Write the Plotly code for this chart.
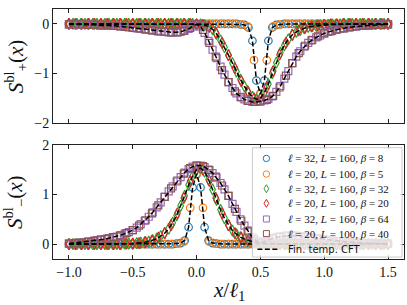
import numpy as np
import plotly.graph_objects as go

# ---------------- data ----------------
x32 = np.linspace(-1.0, 1.5, 81)   # ell = 32 sites, x / ell_1
x20 = np.linspace(-1.0, 1.5, 51)   # ell = 20 sites

# S_-^bl (bottom panel)
sm_nar_32 = [0,0,0,0,0,0,0,0,0,0,
             0,0,0,0,0,0,0,0,0,0,
             0,0,0,0,0,0,0,0.01,0.02,0.07,
             0.34,1.14,1.41,1.14,0.34,0.07,0.02,0.01,0,0,
             0,0,0,0,0,0,0,0,0,0,
             0,0,0,0,0,0,0,0,0,0,
             0,0,0,0,0,0,0,0,0,0,
             0,0,0,0,0,0,0,0,0,0,
             0]
sm_nar_20 = [0,0,0,0,0,0,0,0,0,0,
             0,0,0,0,0,0,0,0.01,0.05,0.73,
             1.40,0.73,0.05,0.01,0,0,0,0,0,0,
             0,0,0,0,0,0,0,0,0,0,
             0,0,0,0,0,0,0,0,0,0,
             0]
sm_med_32 = [0,0,0,0,0,0,0,0,0,0,
             0,0,0,0,0.01,0.01,0.01,0.02,0.03,0.04,
             0.05,0.08,0.11,0.16,0.22,0.31,0.43,0.58,0.77,0.97,
             1.19,1.37,1.50,1.53,1.46,1.30,1.10,0.89,0.69,0.52,
             0.38,0.27,0.20,0.14,0.10,0.07,0.05,0.03,0.02,0.01,
             0.01,0.01,0,0,0,0,0,0,0,0,
             0,0,0,0,0,0,0,0,0,0,
             0,0,0,0,0,0,0,0,0,0,
             0]
sm_med_20 = [0,0,0,0,0,0,0,0,0,0.01,
             0.01,0.02,0.04,0.07,0.13,0.22,0.38,0.62,0.93,1.27,
             1.50,1.50,1.27,0.93,0.62,0.38,0.22,0.13,0.07,0.04,
             0.02,0.01,0.01,0,0,0,0,0,0,0,
             0,0,0,0,0,0,0,0,0,0,
             0]
sm_wid_32 = [0.01,0.02,0.02,0.03,0.04,0.05,0.06,0.08,0.09,0.10,
             0.12,0.14,0.15,0.18,0.21,0.24,0.28,0.33,0.40,0.47,
             0.55,0.64,0.74,0.84,0.95,1.06,1.16,1.26,1.35,1.44,
             1.51,1.56,1.58,1.58,1.55,1.50,1.43,1.34,1.23,1.10,
             0.97,0.81,0.65,0.50,0.37,0.25,0.14,0.06,0.02,0.05,
             0.08,0.11,0.14,0.15,0.16,0.17,0.17,0.17,0.16,0.15,
             0.14,0.13,0.12,0.10,0.09,0.08,0.07,0.06,0.06,0.05,
             0.04,0.04,0.03,0.03,0.02,0.02,0.02,0.01,0.01,0.01,
             0.01]
sm_wid_20 = [0.01,0.02,0.03,0.05,0.07,0.09,0.11,0.14,0.17,0.22,
             0.28,0.37,0.48,0.62,0.78,0.95,1.12,1.28,1.42,1.53,
             1.58,1.57,1.49,1.36,1.18,0.97,0.71,0.47,0.27,0.10,
             0.02,0.07,0.12,0.15,0.17,0.17,0.16,0.15,0.13,0.11,
             0.09,0.07,0.06,0.05,0.04,0.03,0.02,0.02,0.01,0.01,
             0.01]

# S_+^bl (top panel)
sp_nar_32 = [0,0,0,0,0,0,0,0,0,0,
             0,0,0,0,0,0,0,0,0,0,
             0,0,0,0,0,0,0,0,0,0,
             0,0,0,0,0,0,0,0,0,0,
             0,0,0,-0.01,-0.02,-0.07,-0.34,-1.14,-1.41,-1.14,
             -0.34,-0.07,-0.02,-0.01,0,0,0,0,0,0,
             0,0,0,0,0,0,0,0,0,0,
             0,0,0,0,0,0,0,0,0,0,
             0]
sp_nar_20 = [0,0,0,0,0,0,0,0,0,0,
             0,0,0,0,0,0,0,0,0,0,
             0,0,0,0,0,0,0,-0.01,-0.05,-0.73,
             -1.40,-0.73,-0.05,-0.01,0,0,0,0,0,0,
             0,0,0,0,0,0,0,0,0,0,
             0]
sp_med_32 = [0,0,0,0,0,0,0,0,0,0,
             0,0,0,0,0,0,0,0,0,0,
             0,0,0,0,0,0,0,0,0,0,
             0,0,-0.01,-0.01,-0.03,-0.05,-0.11,-0.20,-0.33,-0.47,
             -0.63,-0.79,-0.96,-1.12,-1.26,-1.38,-1.47,-1.52,-1.50,-1.38,
             -1.21,-0.99,-0.78,-0.58,-0.43,-0.31,-0.22,-0.16,-0.12,-0.09,
             -0.06,-0.05,-0.04,-0.03,-0.02,-0.02,-0.01,-0.01,-0.01,0,
             0,0,0,0,0,0,0,0,0,0,
             0]
sp_med_20 = [0,0,0,0,0,0,0,0,0,0,
             0,0,0,0,0,0,0,0,0,0,
             -0.01,-0.02,-0.06,-0.18,-0.38,-0.63,-0.89,-1.15,-1.36,-1.50,
             -1.50,-1.28,-0.95,-0.62,-0.38,-0.22,-0.13,-0.08,-0.05,-0.03,
             -0.02,-0.01,-0.01,0,0,0,0,0,0,0,
             0]
sp_wid_32 = [-0.01,-0.01,-0.01,-0.01,-0.02,-0.02,-0.02,-0.02,-0.03,-0.03,
             -0.03,-0.04,-0.04,-0.05,-0.06,-0.07,-0.08,-0.09,-0.10,-0.11,
             -0.12,-0.13,-0.14,-0.15,-0.16,-0.17,-0.17,-0.17,-0.16,-0.13,
             -0.10,-0.05,-0.01,-0.05,-0.18,-0.34,-0.52,-0.69,-0.86,-1.02,
             -1.17,-1.29,-1.40,-1.47,-1.52,-1.55,-1.57,-1.57,-1.56,-1.54,
             -1.51,-1.46,-1.37,-1.25,-1.10,-0.95,-0.79,-0.66,-0.55,-0.46,
             -0.38,-0.32,-0.27,-0.23,-0.19,-0.16,-0.14,-0.12,-0.10,-0.09,
             -0.07,-0.06,-0.05,-0.04,-0.04,-0.03,-0.03,-0.02,-0.02,-0.01,
             -0.01]
sp_wid_20 = [-0.01,-0.01,-0.01,-0.02,-0.02,-0.03,-0.03,-0.04,-0.05,-0.06,
             -0.08,-0.09,-0.11,-0.13,-0.15,-0.16,-0.17,-0.17,-0.14,-0.08,
             -0.01,-0.12,-0.38,-0.66,-0.93,-1.17,-1.36,-1.48,-1.55,-1.57,
             -1.56,-1.53,-1.45,-1.28,-1.04,-0.79,-0.59,-0.44,-0.33,-0.25,
             -0.19,-0.15,-0.11,-0.09,-0.07,-0.05,-0.04,-0.03,-0.02,-0.02,
             -0.01]

legend_labels = [
    "<i>ℓ</i> = 32, <i>L</i> = 160, <i>β</i> = 8",
    "<i>ℓ</i> = 20, <i>L</i> = 100, <i>β</i> = 5",
    "<i>ℓ</i> = 32, <i>L</i> = 160, <i>β</i> = 32",
    "<i>ℓ</i> = 20, <i>L</i> = 100, <i>β</i> = 20",
    "<i>ℓ</i> = 32, <i>L</i> = 160, <i>β</i> = 64",
    "<i>ℓ</i> = 20, <i>L</i> = 100, <i>β</i> = 40",
]
cft_label = "Fin. temp. CFT"
xtick_vals = [-1.0, -0.5, 0.0, 0.5, 1.0, 1.5]
xtick_text = ["−1.0", "−0.5", "0.0", "0.5", "1.0", "1.5"]
ytop_vals = [-2, -1, 0]
ytop_text = ["−2", "−1", "0"]
ybot_vals = [0, 1, 2]
ybot_text = ["0", "1", "2"]

# ---------------- styling ----------------
colors = ["#1f77b4", "#ff7f0e", "#2ca02c", "#d62728", "#9467bd", "#8c564b"]
symbols = ["circle-open", "circle-open", "diamond-tall-open", "diamond-tall-open",
           "square-open", "square-open"]
sizes = [7.5, 7.5, 8, 8, 7, 7]
SERIF = "Liberation Serif"

series = [
    (x32, sp_nar_32, sm_nar_32),
    (x20, sp_nar_20, sm_nar_20),
    (x32, sp_med_32, sm_med_32),
    (x20, sp_med_20, sm_med_20),
    (x32, sp_wid_32, sm_wid_32),
    (x20, sp_wid_20, sm_wid_20),
]

fig = go.Figure()
for i, (xs, yp, ym) in enumerate(series):
    mk = dict(symbol=symbols[i], size=sizes[i], color=colors[i],
              line=dict(width=1.2, color=colors[i]))
    fig.add_trace(go.Scatter(x=xs, y=yp, mode="markers", marker=mk,
                             xaxis="x", yaxis="y", showlegend=False))
    fig.add_trace(go.Scatter(x=xs, y=ym, mode="markers", marker=mk,
                             xaxis="x2", yaxis="y2", showlegend=False))

# CFT dashed curves
for yp, ym in [(sp_nar_32, sm_nar_32), (sp_med_32, sm_med_32), (sp_wid_32, sm_wid_32)]:
    ln = dict(color="black", width=1.5, dash="5px,2.5px")
    fig.add_trace(go.Scatter(x=x32, y=yp, mode="lines", line=ln,
                             xaxis="x", yaxis="y", showlegend=False))
    fig.add_trace(go.Scatter(x=x32, y=ym, mode="lines", line=ln,
                             xaxis="x2", yaxis="y2", showlegend=False))

axis_common = dict(showline=True, linecolor="#222", linewidth=1, mirror="ticks",
                   ticks="inside", ticklen=4, tickwidth=1, tickcolor="#222",
                   zeroline=False, showgrid=False,
                   tickfont=dict(family=SERIF, size=14, color="#111"))

L, R, T, B = 53, 2, 3, 46
W, H = 407, 305
PW, PH = W - L - R, H - T - B

def X(px):
    return (px - L) / PW

def Y(py):
    return (H - B - py) / PH

top_dom = [Y(120), 1.0]
bot_dom = [0.0, Y(142)]

fig.update_layout(
    width=W, height=H,
    margin=dict(l=L, r=R, t=T, b=B),
    paper_bgcolor="white", plot_bgcolor="white",
    xaxis=dict(axis_common, range=[-1.125, 1.625], tickvals=xtick_vals,
               ticktext=xtick_text, showticklabels=False, anchor="y", domain=[0, 1]),
    yaxis=dict(axis_common, range=[-2.0, 0.3], tickvals=ytop_vals,
               ticktext=ytop_text, anchor="x", domain=top_dom),
    xaxis2=dict(axis_common, range=[-1.125, 1.625], tickvals=xtick_vals,
                ticktext=xtick_text, anchor="y2", domain=[0, 1]),
    yaxis2=dict(axis_common, range=[-0.3, 2.0], tickvals=ybot_vals,
                ticktext=ybot_text, anchor="x2", domain=bot_dom),
    showlegend=False,
)

# ---------------- manual legend ----------------
shapes = []
annos = []
shapes.append(dict(type="rect", xref="paper", yref="paper", layer="above",
                   x0=X(253), x1=X(403), y0=Y(257), y1=Y(145),
                   fillcolor="rgba(255,255,255,0.8)", line=dict(color="#cccccc", width=1)))
ycs = [156, 172, 187, 202, 218, 233, 249]
mx = X(267)
for i in range(6):
    yc = Y(ycs[i])
    base = dict(xref="paper", yref="paper", layer="above", xsizemode="pixel",
                ysizemode="pixel", xanchor=mx, yanchor=yc,
                line=dict(color=colors[i], width=1))
    if "circle" in symbols[i]:
        shapes.append(dict(base, type="circle", x0=-3.2, x1=3.2, y0=-3.2, y1=3.2))
    elif "diamond" in symbols[i]:
        shapes.append(dict(base, type="path", path="M0,4 L2.4,0 L0,-4 L-2.4,0 Z"))
    else:
        shapes.append(dict(base, type="rect", x0=-3, x1=3, y0=-3, y1=3))
    annos.append(dict(xref="paper", yref="paper", x=X(287), y=yc, xanchor="left",
                      yanchor="middle", showarrow=False, text=legend_labels[i],
                      font=dict(family=SERIF, size=11, color="#111")))
shapes.append(dict(type="line", xref="paper", yref="paper", layer="above",
                   x0=X(258), x1=X(278), y0=Y(249), y1=Y(249),
                   line=dict(color="black", width=1.5, dash="5px,2.5px")))
annos.append(dict(xref="paper", yref="paper", x=X(287), y=Y(249), xanchor="left",
                  yanchor="middle", showarrow=False, text=cft_label,
                  font=dict(family="DejaVu Sans", size=10, color="#111")))

# axis titles
annos.append(dict(xref="paper", yref="paper", x=X(15), y=sum(top_dom) / 2,
                  xanchor="center", yanchor="middle", showarrow=False, textangle=-90,
                  text="<i>S</i><sup>bl</sup><sub>+</sub>(<i>x</i>)",
                  font=dict(family=SERIF, size=21, color="#111")))
annos.append(dict(xref="paper", yref="paper", x=X(15), y=sum(bot_dom) / 2,
                  xanchor="center", yanchor="middle", showarrow=False, textangle=-90,
                  text="<i>S</i><sup>bl</sup><sub>−</sub>(<i>x</i>)",
                  font=dict(family=SERIF, size=21, color="#111")))
annos.append(dict(xref="paper", yref="paper", x=X(229), y=Y(292),
                  xanchor="center", yanchor="middle", showarrow=False,
                  text="<i>x</i>/<i>ℓ</i><sub>1</sub>",
                  font=dict(family=SERIF, size=21, color="#111")))

fig.update_layout(shapes=shapes, annotations=annos)
fig.write_html("out.html", config={"displayModeBar": False},
               post_script="document.body.style.margin='0px';")
